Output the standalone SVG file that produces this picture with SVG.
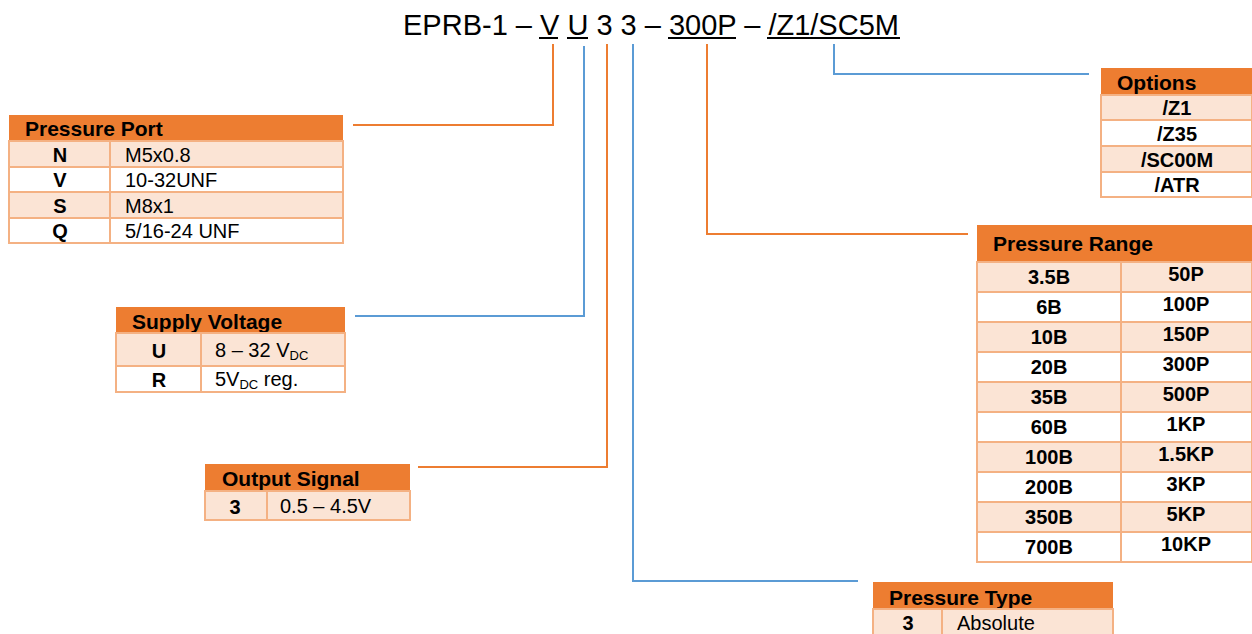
<svg xmlns="http://www.w3.org/2000/svg" width="1252" height="634" viewBox="0 0 1252 634">
<style>
.title{font-family:"Liberation Sans",Arial,sans-serif;font-size:29px;fill:#000}
.hd{fill:#ED7D31}
.lt{fill:#FBE4D5;stroke:#F4B183;stroke-width:2}
.wt{fill:#FFFFFF;stroke:#F4B183;stroke-width:2}
.dv{stroke:#F4B183;stroke-width:2}
.ht{font-family:"Liberation Sans",Arial,sans-serif;font-size:21px;font-weight:bold;fill:#000}
.b{font-family:"Liberation Sans",Arial,sans-serif;font-size:20px;font-weight:bold;fill:#000;text-anchor:middle}
.r{font-family:"Liberation Sans",Arial,sans-serif;font-size:20px;fill:#000}
.sub{font-size:13px}
.co{fill:none;stroke:#ED7D31;stroke-width:2}
.cb{fill:none;stroke:#5B9BD5;stroke-width:2}
.ul{stroke:#000;stroke-width:2}
</style>
<g id="title">
<text class="title" x="403" y="35">EPRB-1 – V U 3 3 – 300P – /Z1/SC5M</text>
<line class="ul" x1="539" y1="38" x2="558" y2="38"/>
<line class="ul" x1="567" y1="38" x2="588" y2="38"/>
<line class="ul" x1="668" y1="38" x2="736" y2="38"/>
<line class="ul" x1="767" y1="38" x2="900" y2="38"/>
</g>
<g id="connectors">
<polyline class="co" points="553,44 553,125 353,125"/>
<polyline class="cb" points="584,46 584,316 355,316"/>
<polyline class="co" points="607,44 607,467 418,467"/>
<polyline class="cb" points="633,44 633,581 858,581"/>
<polyline class="co" points="707,44 707,234 968,234"/>
<polyline class="cb" points="834,44 834,74 1089,74"/>
</g>
<g id="pressure-port">
<rect class="hd" x="9" y="115" width="334" height="26"/>
<text class="ht" x="25" y="136">Pressure Port</text>
<rect class="lt" x="9" y="141" width="334" height="26"/>
<rect class="wt" x="9" y="167" width="334" height="25"/>
<rect class="lt" x="9" y="192" width="334" height="26"/>
<rect class="wt" x="9" y="218" width="334" height="25"/>
<line class="dv" x1="110" y1="141" x2="110" y2="243"/>
<text class="b" x="60" y="162">N</text><text class="r" x="125" y="162">M5x0.8</text>
<text class="b" x="60" y="187">V</text><text class="r" x="125" y="187">10-32UNF</text>
<text class="b" x="60" y="213">S</text><text class="r" x="125" y="213">M8x1</text>
<text class="b" x="60" y="238">Q</text><text class="r" x="125" y="238">5/16-24 UNF</text>
</g>
<g id="supply-voltage">
<rect class="hd" x="116" y="307" width="229" height="26"/>
<text class="ht" x="132" y="329">Supply Voltage</text>
<rect class="lt" x="116" y="333" width="229" height="33"/>
<rect class="wt" x="116" y="366" width="229" height="26"/>
<line class="dv" x1="201" y1="333" x2="201" y2="392"/>
<text class="b" x="159" y="358">U</text>
<text class="r" x="215" y="357">8 – 32 V<tspan class="sub" dy="3">DC</tspan></text>
<text class="b" x="159" y="387">R</text>
<text class="r" x="215" y="386">5V<tspan class="sub" dy="3">DC</tspan><tspan dy="-3"> reg.</tspan></text>
</g>
<g id="output-signal">
<rect class="hd" x="205" y="464" width="205" height="27"/>
<text class="ht" x="222" y="486">Output Signal</text>
<rect class="lt" x="205" y="491" width="205" height="29"/>
<line class="dv" x1="267" y1="491" x2="267" y2="520"/>
<text class="b" x="235" y="514">3</text>
<text class="r" x="280" y="513">0.5 – 4.5V</text>
</g>
<g id="options">
<rect class="hd" x="1101" y="68" width="151" height="27"/>
<text class="ht" x="1117" y="90">Options</text>
<rect class="lt" x="1101" y="95" width="151" height="25"/>
<rect class="wt" x="1101" y="120" width="151" height="26"/>
<rect class="lt" x="1101" y="146" width="151" height="26"/>
<rect class="wt" x="1101" y="172" width="151" height="25"/>
<text class="b" x="1177" y="115">/Z1</text>
<text class="b" x="1177" y="141">/Z35</text>
<text class="b" x="1177" y="167">/SC00M</text>
<text class="b" x="1177" y="192">/ATR</text>
</g>
<g id="pressure-range">
<rect class="hd" x="977" y="225" width="275" height="37"/>
<text class="ht" x="993" y="251">Pressure Range</text>
<rect class="lt" x="977" y="262" width="275" height="30"/>
<rect class="wt" x="977" y="292" width="275" height="30"/>
<rect class="lt" x="977" y="322" width="275" height="30"/>
<rect class="wt" x="977" y="352" width="275" height="30"/>
<rect class="lt" x="977" y="382" width="275" height="30"/>
<rect class="wt" x="977" y="412" width="275" height="30"/>
<rect class="lt" x="977" y="442" width="275" height="30"/>
<rect class="wt" x="977" y="472" width="275" height="30"/>
<rect class="lt" x="977" y="502" width="275" height="30"/>
<rect class="wt" x="977" y="532" width="275" height="30"/>
<line class="dv" x1="1121" y1="262" x2="1121" y2="562"/>
<text class="b" x="1049" y="284">3.5B</text><text class="b" x="1186" y="281">50P</text>
<text class="b" x="1049" y="314">6B</text><text class="b" x="1186" y="311">100P</text>
<text class="b" x="1049" y="344">10B</text><text class="b" x="1186" y="341">150P</text>
<text class="b" x="1049" y="374">20B</text><text class="b" x="1186" y="371">300P</text>
<text class="b" x="1049" y="404">35B</text><text class="b" x="1186" y="401">500P</text>
<text class="b" x="1049" y="434">60B</text><text class="b" x="1186" y="431">1KP</text>
<text class="b" x="1049" y="464">100B</text><text class="b" x="1186" y="461">1.5KP</text>
<text class="b" x="1049" y="494">200B</text><text class="b" x="1186" y="491">3KP</text>
<text class="b" x="1049" y="524">350B</text><text class="b" x="1186" y="521">5KP</text>
<text class="b" x="1049" y="554">700B</text><text class="b" x="1186" y="551">10KP</text>
</g>
<g id="pressure-type">
<rect class="hd" x="873" y="582" width="240" height="27"/>
<text class="ht" x="889" y="605">Pressure Type</text>
<rect class="lt" x="873" y="609" width="240" height="30"/>
<line class="dv" x1="942" y1="609" x2="942" y2="634"/>
<text class="b" x="908" y="630">3</text>
<text class="r" x="957" y="630">Absolute</text>
</g>
</svg>
